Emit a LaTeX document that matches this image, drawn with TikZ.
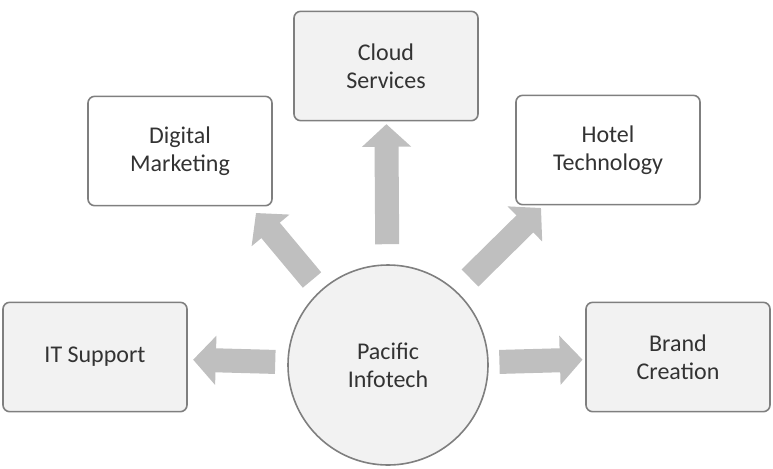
\documentclass[tikz,border=0pt]{standalone}
\usepackage{fontspec}
\setmainfont{Carlito}
\usetikzlibrary{arrows.meta}
\definecolor{boxline}{HTML}{7F7F7F}
\definecolor{boxfill}{HTML}{F2F2F2}
\definecolor{arrowgray}{HTML}{BFBFBF}
\tikzset{%
  box/.style   = {draw=boxline, line width=1.2pt, rounded corners=5pt, minimum width=138pt,
    minimum height=82pt, align=center, font=\fontsize{18}{21}\selectfont, text=black!80},
  gbox/.style  = {box, fill=boxfill}, % grey box
  hub/.style   = {draw=boxline, line width=1.2pt, circle, fill=boxfill, minimum size=150pt,
    align=center, font=\fontsize{18}{21}\selectfont, text=black!80},
  bigarrow/.style = {draw=arrowgray, line width=18pt,
    -{Triangle[length=17pt, width=36pt]}}
}
\begin{document}
\begin{tikzpicture}[x=0.75pt, y=-0.75pt]
  \useasboundingbox (0,0) rectangle (773,468);

  \node at (388,365) [hub] (infotech) {Pacific\\Infotech};
  \node at (95,357) [gbox] (support) {IT Support};
  \node at (180,151) [box] (marketing) {Digital\\Marketing};
  \node at (386,66) [gbox] (cloud) {Cloud\\Services};
  \node at (608,150) [box] (hotel) {Hotel\\Technology};
  \node at (678,357) [gbox] (brand) {Brand\\Creation};

  % free-standing arrow ends
  \coordinate (mktail) at (312,280);
  \coordinate (mktip) at (256,213);
  \coordinate (hotail) at (470,278);
  \coordinate (hotip) at (541,208);

  \draw[bigarrow, shorten <=9pt, shorten >=4pt] (infotech) -- (support);
  \draw[bigarrow, shorten <=8pt, shorten >=2pt] (infotech) -- (brand);
  \draw[bigarrow, shorten <=15pt, shorten >=2pt] (infotech) -- (cloud);
  \draw[bigarrow] (mktail) -- (mktip);
  \draw[bigarrow] (hotail) -- (hotip);
\end{tikzpicture}
\end{document}
